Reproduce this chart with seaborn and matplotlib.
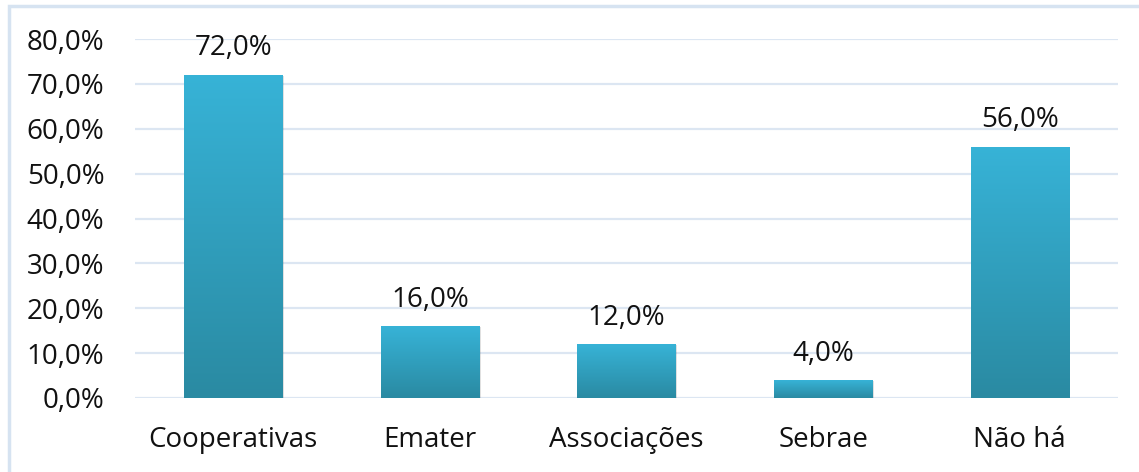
import numpy as np
import pandas as pd
import matplotlib
matplotlib.use("Agg")
import matplotlib.pyplot as plt
from matplotlib.patches import Rectangle
from matplotlib.colors import LinearSegmentedColormap
import seaborn as sns

# Dados
categorias = ["Cooperativas", "Emater", "Associações", "Sebrae", "Não há"]
percentuais = [72.0, 16.0, 12.0, 4.0, 56.0]
ticks_y = [0, 10, 20, 30, 40, 50, 60, 70, 80]

df = pd.DataFrame({"categoria": categorias, "valor": percentuais})

sns.set_theme(style="white")
plt.rcParams["font.family"] = ["Open Sans", "DejaVu Sans"]

fig = plt.figure(figsize=(11.39, 4.72), dpi=100)
ax = fig.add_axes([135 / 1139, 1 - 398 / 472, 983 / 1139, 359 / 472])

sns.barplot(data=df, x="categoria", y="valor", ax=ax, width=0.5,
            color="#34AFD3", edgecolor="none", zorder=3)

# gradiente vertical em cada barra
cmap = LinearSegmentedColormap.from_list("grad", ["#2A8AA2", "#37B3D7"])
grad = np.linspace(0, 1, 256).reshape(-1, 1)
for p in ax.patches:
    x0, y0 = p.get_x(), p.get_y()
    w, h = p.get_width(), p.get_height()
    # sombra leve
    sh = Rectangle((x0 + 0.008, y0 - 0.25), w, h, facecolor="#000000",
                   alpha=0.12, edgecolor="none", zorder=2)
    ax.add_patch(sh)
    im = ax.imshow(grad, cmap=cmap, aspect="auto", origin="lower",
                   extent=[x0, x0 + w, y0, y0 + h], zorder=4)
    im.set_clip_path(p)

ax.set_xlim(-0.5, 4.5)
ax.set_ylim(0, 80)
ax.set_yticks(ticks_y)
ax.set_yticklabels([f"{t:.1f}%".replace(".", ",") for t in ticks_y])
ax.grid(axis="y", color="#DCE6F2", linewidth=1.6, zorder=0)
ax.set_axisbelow(True)
for s in ax.spines.values():
    s.set_visible(False)
ax.set_xlabel("")
ax.set_ylabel("")
ax.tick_params(axis="y", labelsize=20, pad=22, length=0, colors="#111111")
ax.tick_params(axis="x", labelsize=20, pad=20, length=0, colors="#111111")

for i, v in enumerate(percentuais):
    ax.annotate(f"{v:.1f}%".replace(".", ","), (i, v), xytext=(0, 9),
                textcoords="offset points", ha="center", va="bottom",
                fontsize=20, color="#111111")

# moldura do gráfico
fig.patches.append(Rectangle((9 / 1139, -0.02), 1.05, 1 - 6 / 472 + 0.02,
                             transform=fig.transFigure, fill=False,
                             edgecolor="#D6E3F1", linewidth=2.5))

fig.savefig("out.png", dpi=100)
